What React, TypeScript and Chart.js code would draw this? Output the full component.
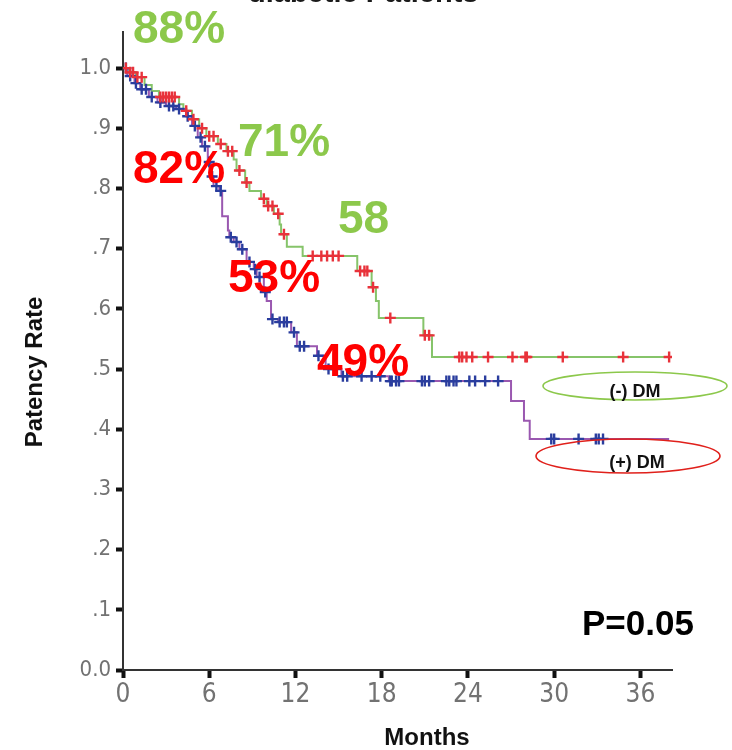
import React, { useEffect, useRef } from "react";
import { Chart, registerables } from "chart.js";

Chart.register(...registerables);

// ---- axis ticks ----
const xTicks = [0, 6, 12, 18, 24, 30, 36];
const yTicks = [0, 0.1, 0.2, 0.3, 0.4, 0.5, 0.6, 0.7, 0.8, 0.9, 1.0];
const yTickLabels = ["0.0", ".1", ".2", ".3", ".4", ".5", ".6", ".7", ".8", ".9", "1.0"];

// ---- (-) DM : Kaplan-Meier steps (months, patency) ----
const noDmTimes = [0, 0.4, 0.9, 1.5, 2.0, 2.5, 3.9, 4.2, 4.8, 5.3, 5.8, 6.6, 7.2, 7.7, 7.9, 8.5, 8.8, 9.6, 10.0, 10.5, 10.9, 11.0, 11.4, 12.5, 16.3, 17.3, 17.6, 17.8, 20.9, 21.5, 38.0];
const noDmSurv = [1.0, 0.993, 0.985, 0.972, 0.962, 0.952, 0.94, 0.929, 0.915, 0.9, 0.887, 0.874, 0.862, 0.848, 0.83, 0.81, 0.796, 0.783, 0.771, 0.758, 0.74, 0.724, 0.703, 0.688, 0.663, 0.636, 0.613, 0.585, 0.556, 0.52, 0.52];
const noDmCensored = [0.2, 0.5, 0.7, 1.0, 1.3, 2.6, 2.8, 3.0, 3.2, 3.4, 3.6, 4.4, 4.9, 5.5, 6.0, 6.3, 6.8, 7.3, 7.6, 8.1, 8.6, 9.8, 10.1, 10.4, 10.8, 11.2, 13.2, 13.8, 14.2, 14.6, 15.0, 16.5, 16.8, 17.0, 17.4, 18.6, 21.0, 21.3, 23.4, 23.6, 23.9, 24.3, 25.4, 27.1, 28.0, 28.1, 30.6, 34.8, 38.0];

// ---- (+) DM ----
const dmTimes = [0, 0.3, 0.8, 1.2, 1.8, 2.4, 3.0, 3.7, 4.4, 4.8, 5.2, 5.5, 5.9, 6.1, 6.3, 6.7, 6.9, 7.3, 7.4, 7.7, 8.1, 8.6, 9.1, 9.3, 9.8, 10.0, 10.3, 10.8, 11.7, 12.1, 13.5, 14.1, 15.2, 18.5, 27.0, 27.9, 28.3, 38.0];
const dmSurv = [1.0, 0.987, 0.975, 0.965, 0.952, 0.943, 0.937, 0.932, 0.92, 0.904, 0.885, 0.87, 0.844, 0.82, 0.804, 0.796, 0.754, 0.73, 0.719, 0.711, 0.699, 0.678, 0.666, 0.653, 0.628, 0.613, 0.583, 0.578, 0.561, 0.538, 0.522, 0.5, 0.488, 0.48, 0.447, 0.414, 0.384, 0.384];
const dmCensored = [0.2, 0.5, 0.9, 1.3, 1.6, 2.0, 2.6, 3.2, 3.5, 3.9, 4.5, 5.0, 5.4, 5.7, 6.0, 6.2, 6.5, 6.8, 7.5, 7.9, 8.3, 8.8, 9.2, 9.5, 9.9, 10.4, 10.9, 11.2, 11.4, 11.9, 12.3, 12.6, 13.6, 14.3, 14.8, 15.3, 15.6, 16.6, 17.3, 17.9, 18.6, 18.7, 19.0, 19.2, 20.8, 21.0, 21.3, 22.5, 22.7, 23.0, 23.2, 24.1, 24.5, 25.2, 26.1, 29.8, 30.0, 31.7, 32.9, 33.1, 33.4];

const GREEN_LINE = "#86c46a";
const PURPLE_LINE = "#9a58b0";
const RED_MARK = "#e8323a";
const BLUE_MARK = "#2a3d9e";

function survivalAt(times: number[], surv: number[], t: number): number {
  let s = surv[0];
  for (let i = 0; i < times.length; i++) {
    if (times[i] <= t) s = surv[i];
  }
  return s;
}

const overlayPlugin = {
  id: "overlay",
  afterDraw(chart: any) {
    const ctx = chart.ctx as CanvasRenderingContext2D;
    ctx.save();
    // title (cut off at the top)
    ctx.fillStyle = "#1a1a1a";
    ctx.font = "bold 29px 'Liberation Sans', Arial, sans-serif";
    ctx.textAlign = "left";
    ctx.textBaseline = "alphabetic";
    ctx.fillText("diabetic Patients", 248, 2);

    // percentage labels
    const big = "bold 46px 'Liberation Sans', Arial, sans-serif";
    const labels = [
      { t: "88%", c: "#8cc84b", x: 133, y: 43 },
      { t: "71%", c: "#8cc84b", x: 238, y: 156 },
      { t: "82%", c: "#ff0000", x: 133, y: 183 },
      { t: "58", c: "#8cc84b", x: 338, y: 233 },
      { t: "53%", c: "#ff0000", x: 228, y: 292 },
      { t: "49%", c: "#ff0000", x: 317, y: 376 },
    ];
    ctx.font = big;
    for (const l of labels) {
      ctx.fillStyle = l.c;
      ctx.fillText(l.t, l.x, l.y);
    }

    // P value
    ctx.fillStyle = "#000";
    ctx.font = "bold 35px 'Liberation Sans', Arial, sans-serif";
    ctx.fillText("P=0.05", 582, 635);

    // legend ellipses
    ctx.lineWidth = 1.6;
    ctx.strokeStyle = "#8cc84b";
    ctx.beginPath();
    ctx.ellipse(635, 386, 92, 14, 0, 0, Math.PI * 2);
    ctx.stroke();
    ctx.strokeStyle = "#e0201b";
    ctx.beginPath();
    ctx.ellipse(628, 456, 92, 17, 0, 0, Math.PI * 2);
    ctx.stroke();

    ctx.fillStyle = "#111";
    ctx.font = "bold 18px 'Liberation Sans', Arial, sans-serif";
    ctx.textAlign = "center";
    ctx.fillText("(-) DM", 635, 397);
    ctx.fillText("(+) DM", 637, 468);

    // axis titles
    ctx.font = "bold 24px 'Liberation Sans', Arial, sans-serif";
    ctx.fillText("Months", 427, 745);
    ctx.translate(42, 372);
    ctx.rotate(-Math.PI / 2);
    ctx.fillText("Patency Rate", 0, 0);
    ctx.restore();
  },
};

export default function App() {
  const canvasRef = useRef<HTMLCanvasElement | null>(null);

  useEffect(() => {
    const canvas = canvasRef.current;
    if (!canvas) return;

    const noDmLine = noDmTimes.map((t, i) => ({ x: t, y: noDmSurv[i] }));
    const dmLine = dmTimes.map((t, i) => ({ x: t, y: dmSurv[i] }));
    const noDmMarks = noDmCensored.map((t) => ({ x: t, y: survivalAt(noDmTimes, noDmSurv, t) }));
    const dmMarks = dmCensored.map((t) => ({ x: t, y: survivalAt(dmTimes, dmSurv, t) }));

    const tickFont = { family: "'Liberation Sans Narrow', 'DejaVu Sans Condensed', Arial, sans-serif", size: 26 };

    const chart = new Chart(canvas, {
      type: "scatter",
      data: {
        datasets: [
          {
            label: "(-) DM censored",
            data: noDmMarks,
            pointStyle: "cross",
            pointRadius: 5.5,
            pointBorderWidth: 2.4,
            borderColor: RED_MARK,
            backgroundColor: RED_MARK,
            showLine: false,
            order: 0,
          },
          {
            label: "(+) DM censored",
            data: dmMarks,
            pointStyle: "cross",
            pointRadius: 5.5,
            pointBorderWidth: 2.4,
            borderColor: BLUE_MARK,
            backgroundColor: BLUE_MARK,
            showLine: false,
            order: 1,
          },
          {
            label: "(+) DM",
            data: dmLine,
            showLine: true,
            stepped: "before",
            borderColor: PURPLE_LINE,
            borderWidth: 2,
            pointRadius: 0,
            fill: false,
            order: 2,
          },
          {
            label: "(-) DM",
            data: noDmLine,
            showLine: true,
            stepped: "before",
            borderColor: GREEN_LINE,
            borderWidth: 2,
            pointRadius: 0,
            fill: false,
            order: 3,
          },
        ],
      },
      options: {
        animation: false,
        responsive: false,
        devicePixelRatio: 1,
        layout: { padding: { top: 32, right: 60, left: 0, bottom: 0 } },
        plugins: {
          legend: { display: false },
          tooltip: { enabled: false },
          title: { display: false },
        },
        scales: {
          x: {
            type: "linear",
            min: 0,
            max: 38.2,
            afterBuildTicks: (s: any) => {
              s.ticks = xTicks.map((v) => ({ value: v }));
            },
            afterFit: (s: any) => {
              s.height = 80;
            },
            ticks: {
              color: "#727272",
              font: tickFont,
              padding: 2,
              maxRotation: 0,
              callback: (v: any) => String(v),
            },
            grid: {
              display: true,
              drawOnChartArea: false,
              drawTicks: true,
              tickLength: 8,
              tickWidth: 4,
              tickColor: "#111",
            },
            border: { display: true, color: "#333", width: 2 },
          },
          y: {
            type: "linear",
            min: 0,
            max: 1.06,
            afterBuildTicks: (s: any) => {
              s.ticks = yTicks.map((v) => ({ value: v }));
            },
            afterFit: (s: any) => {
              s.width = 123;
            },
            ticks: {
              color: "#727272",
              font: { ...tickFont, size: 22 },
              padding: 5,
              callback: (_v: any, i: number) => yTickLabels[i],
            },
            grid: {
              display: true,
              drawOnChartArea: false,
              drawTicks: true,
              tickLength: 7,
              tickWidth: 4,
              tickColor: "#111",
            },
            border: { display: true, color: "#333", width: 2 },
          },
        },
      },
      plugins: [overlayPlugin],
    } as any);

    return () => chart.destroy();
  }, []);

  return (
    <div style={{ position: "fixed", left: 0, top: 0, width: 732, height: 750, background: "#fff" }}>
      <canvas ref={canvasRef} width={732} height={750} style={{ width: 732, height: 750, display: "block" }} />
    </div>
  );
}
